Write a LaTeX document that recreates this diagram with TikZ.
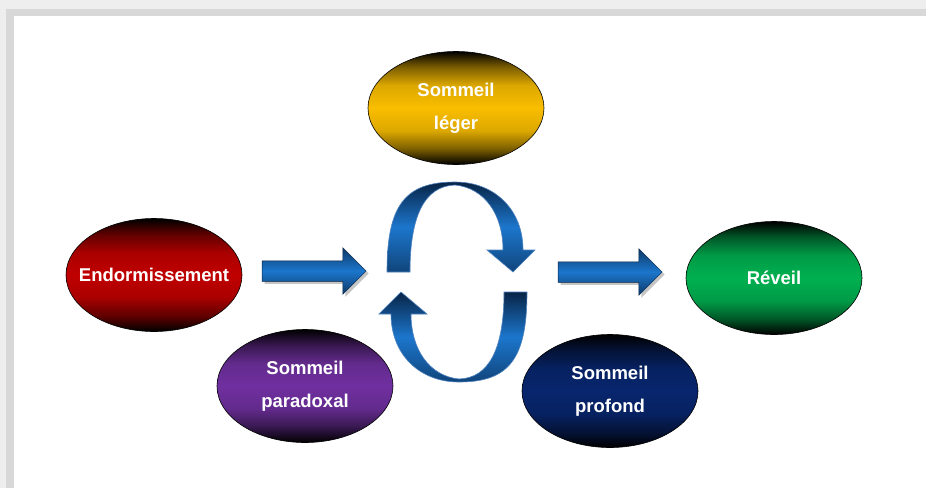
\documentclass[tikz,border=0pt]{standalone}
\usepackage{fontspec}
\setmainfont{Liberation Sans}
\usetikzlibrary{shapes.geometric,shapes.arrows,shadows}

\definecolor{rougeC}{RGB}{192,0,0}
\definecolor{jauneC}{RGB}{250,190,0}
\definecolor{vertC}{RGB}{0,176,80}
\definecolor{violetC}{RGB}{112,48,160}
\definecolor{marineC}{RGB}{8,38,110}
\definecolor{bleuC}{RGB}{28,118,204}
\definecolor{bleuF}{RGB}{8,36,70}
\definecolor{bleuL}{RGB}{80,130,190}
\definecolor{fondC}{RGB}{238,238,238}
\definecolor{cadreC}{RGB}{216,216,216}
\colorlet{phasec}{red}

\pgfdeclareverticalshading[phasec]{phaseshade}{100bp}{%
  color(0bp)=(black); color(25bp)=(black);
  color(32bp)=(phasec!50!black); color(40bp)=(phasec!88!black);
  color(50bp)=(phasec); color(60bp)=(phasec!88!black);
  color(68bp)=(phasec!50!black); color(75bp)=(black); color(100bp)=(black)}

\tikzset{
  phase/.style={ellipse, draw=black, line width=.6pt,
    minimum width=176pt, minimum height=113pt, inner sep=0pt,
    /utils/exec={\colorlet{phasec}{#1}}, shade, shading=phaseshade,
    text=white, align=center, font=\bfseries\fontsize{18.5}{33}\selectfont},
  fleche/.style={single arrow, draw=bleuF, line width=.5pt,
    minimum height=104pt, inner xsep=0pt, inner ysep=10pt,
    single arrow head extend=13pt,
    top color=bleuF!75!bleuC, bottom color=bleuF!75!bleuC, middle color=bleuC,
    drop shadow={shadow xshift=2.5pt, shadow yshift=-2.5pt, opacity=.45}},
  boucle/.style={draw=bleuL, line width=.6pt,
    top color=bleuF, bottom color=bleuF!60!bleuC, middle color=bleuC}
}

\begin{document}
\begin{tikzpicture}[x=1pt,y=-1pt]
  \useasboundingbox (0,0) rectangle (926,488);
  \fill[fondC] (0,0) rectangle (926,488);
  \fill[cadreC] (6,9) rectangle (926,488);
  \fill[white] (14,16) rectangle (926,488);

  % phases du sommeil
  \node[phase=rougeC, inner xsep=-14pt] (endo) at (154,275) {Endormissement};
  \node[phase=jauneC] (leger) at (456,108) {Sommeil\\léger};
  \node[phase=vertC] (reveil) at (774,278) {Réveil};
  \node[phase=violetC] (para) at (305,386) {Sommeil\\paradoxal};
  \node[phase=marineC] (profond) at (610,391) {Sommeil\\profond};

  % fleches droites
  \node[fleche] (entree) at (309,271) {};
  \node[fleche] (sortie) at (605,272) {};

  % cycle
  \path[boucle] (387,272) .. controls (387,205) and (405,182) .. (455,182)
    .. controls (495,182) and (523,210) .. (523,250)
    -- (535,250) -- (513,272) -- (487,250) -- (503,250)
    .. controls (503,215) and (485,188) .. (455,185)
    .. controls (425,186) and (410,215) .. (410,272) -- cycle;
  \path[boucle, rotate around={180:(457,282)}]
    (387,272) .. controls (387,205) and (405,182) .. (455,182)
    .. controls (495,182) and (523,210) .. (523,250)
    -- (535,250) -- (513,272) -- (487,250) -- (503,250)
    .. controls (503,215) and (485,188) .. (455,185)
    .. controls (425,186) and (410,215) .. (410,272) -- cycle;
\end{tikzpicture}
\end{document}
